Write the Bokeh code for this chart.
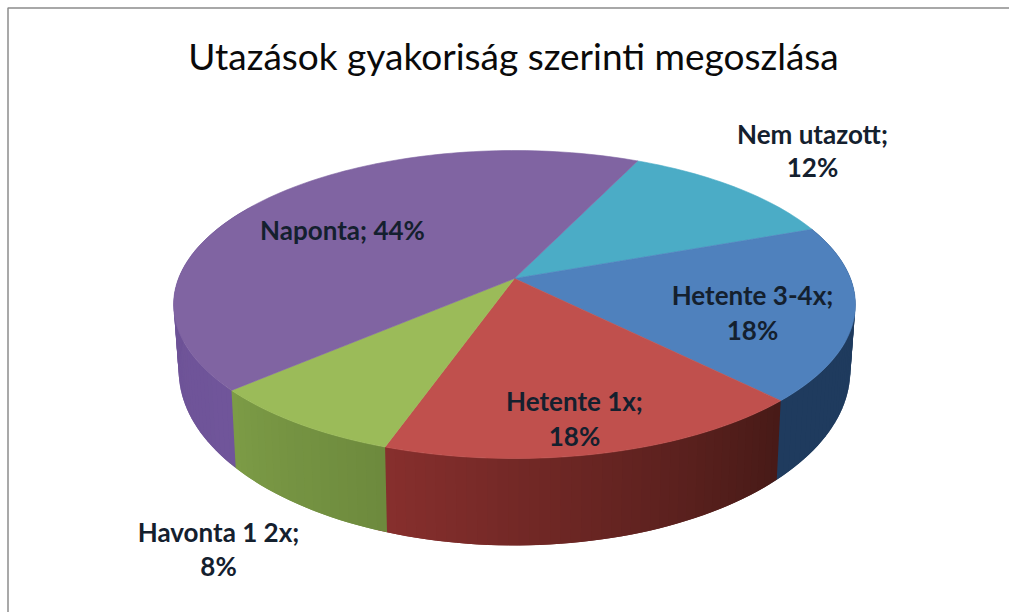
import math
from bokeh.plotting import figure
from bokeh.models import Range1d
from bokeh.core.properties import value
from bokeh.embed import file_html
from bokeh.resources import INLINE

# ---- data (clockwise from the first slice, shares)
categories = ["Nem utazott", "Hetente 3-4x", "Hetente 1x", "Havonta 1 2x", "Naponta"]
shares = [12.4, 18.4, 17.5, 8.2, 43.5]

title = "Utazások gyakoriság szerinti megoszlása"

# ---- styles
top_colors = ["#4bacc6", "#4f81bd", "#c0504d", "#9bbb59", "#8064a2"]
side_left = [None, "#1f3b5e", "#872f2d", "#7c9b46", "#644a8c"]
side_right = [None, "#1f3b5e", "#471a17", "#6d8a3d", "#70559a"]

START_ANGLE = 25.0
APEX_X = 514.0
K = -0.169
TOP = dict(y0=278.0, r=336.0, b=149.6)
BOTTOM = dict(y0=340.4, r=331.0, b=170.0)
VISIBLE_FROM, VISIBLE_TO = 60.0, 300.0
STEP = 1.5

# label layout: (centre x, centre y, text)
shown = [f"{round(s)}%" for s in shares]
label_rows = [
    (812, 133, categories[0] + ";"), (812, 166, shown[0]),
    (752, 294, categories[1] + ";"), (752, 329, shown[1]),
    (574, 400, categories[2] + ";"), (574, 435, shown[2]),
    (218, 531, categories[3] + ";"), (218, 565, shown[3]),
    (342, 229, categories[4] + "; " + shown[4]),
]


def project(theta, ring):
    a = math.radians(theta)
    u, v = math.sin(a), -math.cos(a)
    w = 1 + K * v
    return APEX_X + ring["r"] * u / w, ring["y0"] + ring["b"] * v / w


def mix(c1, c2, t):
    a = [int(c1[i:i + 2], 16) for i in (1, 3, 5)]
    b = [int(c2[i:i + 2], 16) for i in (1, 3, 5)]
    return "#%02x%02x%02x" % tuple(round(x + (y - x) * t) for x, y in zip(a, b))


edges = [START_ANGLE]
for s in shares:
    edges.append(edges[-1] + s * 3.6)

p = figure(width=1009, height=612, x_range=Range1d(0, 1009), y_range=Range1d(612, 0),
           x_axis_type=None, y_axis_type=None, toolbar_location=None,
           output_backend="svg", min_border=0, outline_line_color=None)
p.grid.visible = False
p.background_fill_color = "white"
p.border_fill_color = "white"

# frame of the pasted chart: left and top edges only
p.line([7.5, 7.5, 1009], [612, 7.5, 7.5], line_color="#8c8c8c", line_width=1.5)

# side wall: each band overlaps the next one, so no seams show
wx, wy, wc = [], [], []
for i in range(1, len(shares)):
    a0, a1 = edges[i], edges[i + 1]
    n = max(1, int((a1 - a0) / STEP))
    da = (a1 - a0) / n
    for j in range(n):
        t0 = a0 + da * j
        t1 = t0 + da * 2
        if t1 < VISIBLE_FROM or t0 > VISIBLE_TO:
            continue
        xa, ya = project(t0, TOP)
        xb, yb = project(t1, TOP)
        xc, yc = project(t1, BOTTOM)
        xd, yd = project(t0, BOTTOM)
        wx.append([xa, xb, xc, xd])
        wy.append([ya, yb, yc, yd])
        wc.append(mix(side_right[i], side_left[i], (j + 0.5) / n))
p.patches(wx, wy, fill_color=wc, line_color=None)

# top surface
tx, ty = [], []
for i in range(len(shares)):
    a0, a1 = edges[i], edges[i + 1]
    n = max(2, int((a1 - a0) / STEP))
    pts = [project(a0 + (a1 - a0) * j / n, TOP) for j in range(n + 1)]
    tx.append([APEX_X] + [q[0] for q in pts])
    ty.append([TOP["y0"]] + [q[1] for q in pts])
p.patches(tx, ty, fill_color=top_colors, line_color=top_colors, line_width=0.6)

# texts
p.text([513], [55], text=[title], text_font=value("Lato"), text_font_size="37px",
       text_color="#0a0a0a", text_align="center", text_baseline="middle")
p.text([r[0] for r in label_rows], [r[1] for r in label_rows], text=[r[2] for r in label_rows],
       text_font=value("Lato"), text_font_size="26px", text_font_style="bold",
       text_color="#14202e", text_align="center", text_baseline="middle")

open("out.html", "w").write(file_html(p, INLINE))
